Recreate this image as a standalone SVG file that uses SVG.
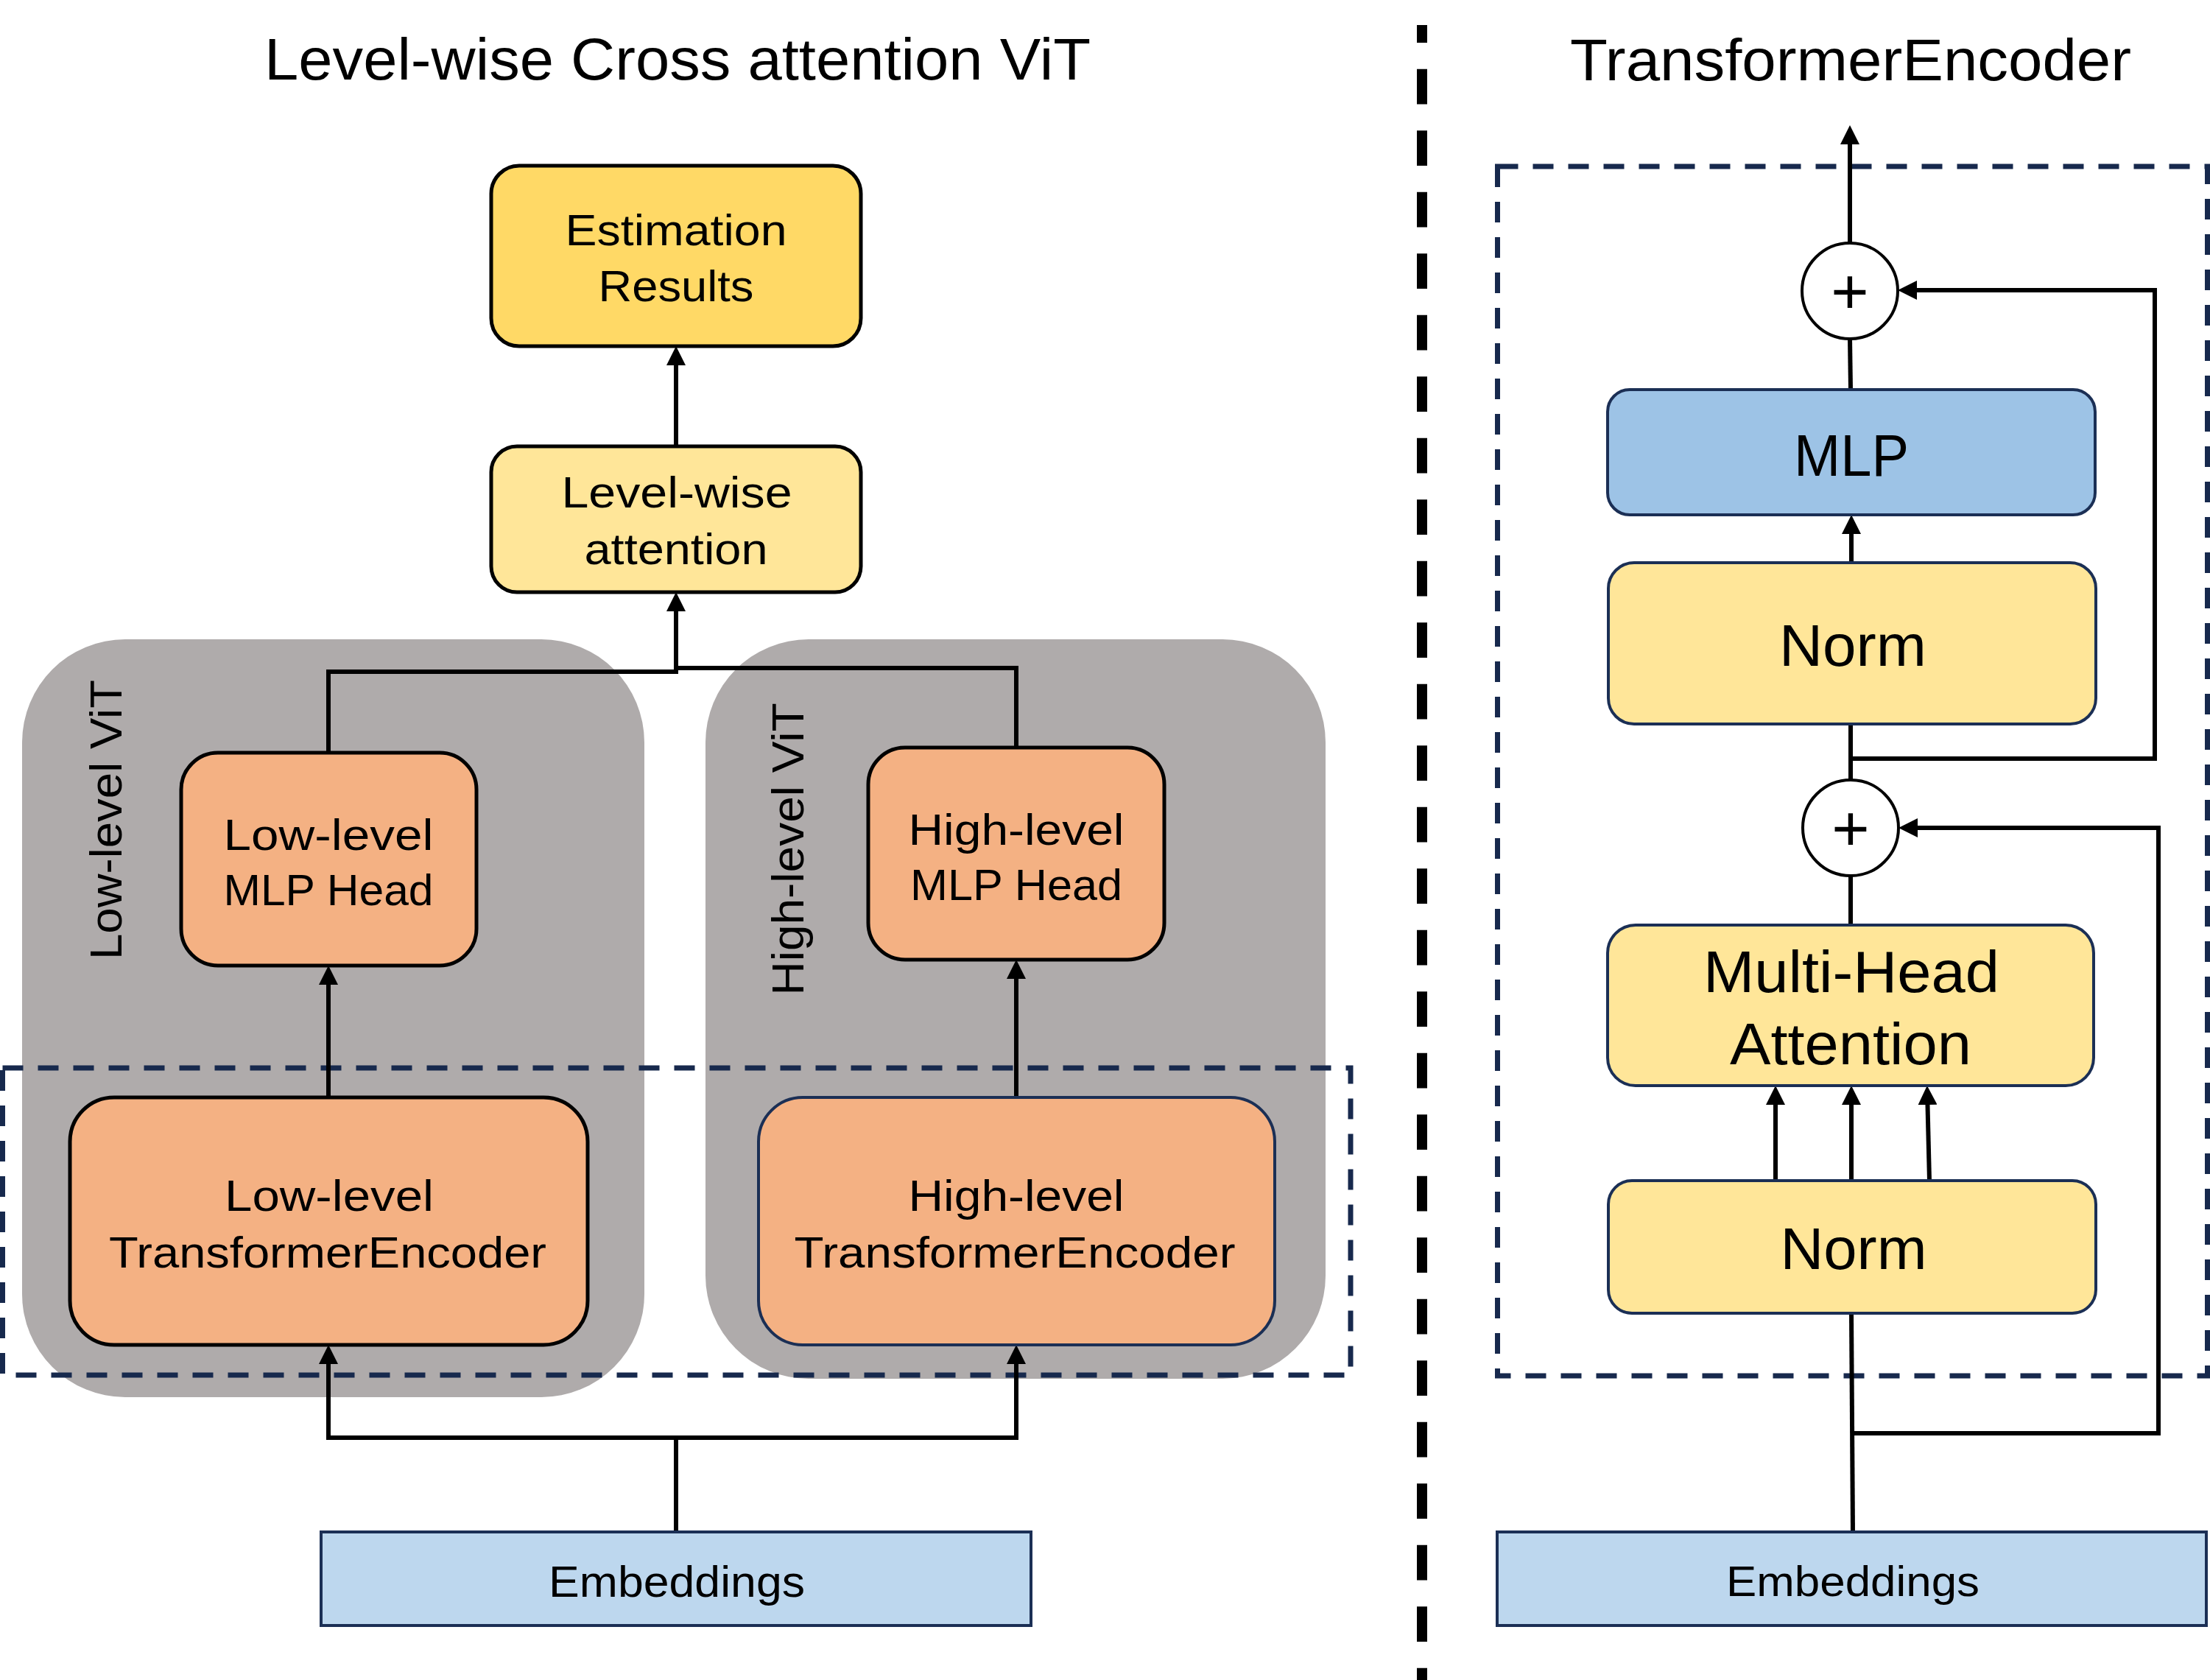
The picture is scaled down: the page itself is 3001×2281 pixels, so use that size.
<svg xmlns="http://www.w3.org/2000/svg" width="3001" height="2281" viewBox="0 0 3001 2281">
<defs>
<style>
.t{font-family:"Liberation Sans",Arial,sans-serif;fill:#000;text-anchor:middle}
.title{font-size:80px}
.lt{font-size:60px}
.rt{font-size:80px}
.vt{font-size:62px}
.pl{font-size:88px}
.box{stroke:#000;stroke-width:5}
.nbox{stroke:#1B2F55;stroke-width:4}
.panel{fill:#AFABAB}
.dash{fill:none;stroke:#17294D;stroke-width:7;stroke-dasharray:28 20}
.c{fill:none;stroke:#000;stroke-width:6}
.ca{fill:none;stroke:#000;stroke-width:6;marker-end:url(#arrow)}
</style>
<marker id="arrow" markerUnits="userSpaceOnUse" markerWidth="26" markerHeight="26" viewBox="0 0 26 26" refX="20" refY="13" orient="auto">
<path d="M0,0 L26,13 L0,26 z" fill="#000"/>
</marker>
</defs>
<rect width="3001" height="2281" fill="#fff"/>

<g id="titles">
<text class="t title" x="920" y="108" textLength="1122" lengthAdjust="spacingAndGlyphs">Level-wise Cross attention ViT</text>
<text class="t title" x="2513" y="109" textLength="762" lengthAdjust="spacingAndGlyphs">TransformerEncoder</text>
</g>

<g id="divider">
<path d="M1931,34 V2281" fill="none" stroke="#000" stroke-width="14" stroke-dasharray="47.7 35.8" stroke-dashoffset="23.7"/>
</g>

<g id="low-level-vit">
<rect class="panel" x="30" y="868" width="845" height="1029" rx="140"/>
<text class="t vt" transform="translate(165,1113) rotate(-90)" textLength="380" lengthAdjust="spacingAndGlyphs">Low-level ViT</text>
</g>
<g id="high-level-vit">
<rect class="panel" x="958" y="868" width="842" height="1004" rx="140"/>
<text class="t vt" transform="translate(1091,1153) rotate(-90)" textLength="397" lengthAdjust="spacingAndGlyphs">High-level ViT</text>
</g>

<g id="encoder-region-left">
<rect class="dash" x="3.5" y="1450" width="1830.5" height="417"/>
</g>
<g id="encoder-region-right">
<rect class="dash" x="2033.5" y="226" width="964" height="1642"/>
</g>

<g id="connectors">
<path class="ca" d="M918,606 V476"/>
<path class="ca" d="M446,1022 V912 H918 V810"/>
<path class="c" d="M1380,1015 V907 H918"/>
<path class="ca" d="M446,1490 V1317"/>
<path class="ca" d="M1380,1490 V1309"/>
<path class="ca" d="M918,2080 V1952 H446 V1832"/>
<path class="ca" d="M918,1952 H1380 V1832"/>

<path class="ca" d="M2512,330 V176"/>
<path class="c" d="M2513,529 L2512,459"/>
<path class="ca" d="M2514,764 V705"/>
<path class="c" d="M2513,983 V1059"/>
<path class="ca" d="M2513,1030 H2926 V394 H2583"/>
<path class="c" d="M2513,1189 V1256"/>
<path class="ca" d="M2411,1603 V1480"/>
<path class="ca" d="M2514,1603 V1480"/>
<path class="ca" d="M2620,1603 L2617,1480"/>
<path class="c" d="M2514,1783 L2516,2080"/>
<path class="ca" d="M2515,1946 H2931 V1124 H2584"/>
</g>

<g id="estimation-results">
<rect class="box" x="667" y="225" width="502" height="245" rx="38" fill="#FFD966"/>
<text class="t lt" x="918" y="333" textLength="301" lengthAdjust="spacingAndGlyphs">Estimation</text>
<text class="t lt" x="918" y="409" textLength="211" lengthAdjust="spacingAndGlyphs">Results</text>
</g>
<g id="level-wise-attention">
<rect class="box" x="667" y="606" width="502" height="198" rx="35" fill="#FFE699"/>
<text class="t lt" x="919" y="689" textLength="313" lengthAdjust="spacingAndGlyphs">Level-wise</text>
<text class="t lt" x="918" y="766" textLength="249" lengthAdjust="spacingAndGlyphs">attention</text>
</g>
<g id="low-mlp-head">
<rect class="box" x="246" y="1022" width="401" height="289" rx="50" fill="#F4B183"/>
<text class="t lt" x="446" y="1154" textLength="285" lengthAdjust="spacingAndGlyphs">Low-level</text>
<text class="t lt" x="446" y="1229" textLength="285" lengthAdjust="spacingAndGlyphs">MLP Head</text>
</g>
<g id="high-mlp-head">
<rect class="box" x="1179" y="1015" width="402" height="288" rx="50" fill="#F4B183"/>
<text class="t lt" x="1380" y="1147" textLength="293" lengthAdjust="spacingAndGlyphs">High-level</text>
<text class="t lt" x="1380" y="1222" textLength="288" lengthAdjust="spacingAndGlyphs">MLP Head</text>
</g>
<g id="low-transformer-encoder">
<rect class="box" x="95" y="1490" width="703" height="336" rx="60" fill="#F4B183"/>
<text class="t lt" x="447" y="1644" textLength="284" lengthAdjust="spacingAndGlyphs">Low-level</text>
<text class="t lt" x="445" y="1721" textLength="594" lengthAdjust="spacingAndGlyphs">TransformerEncoder</text>
</g>
<g id="high-transformer-encoder">
<rect class="nbox" x="1030" y="1490" width="701" height="336" rx="60" fill="#F4B183"/>
<text class="t lt" x="1380" y="1644" textLength="293" lengthAdjust="spacingAndGlyphs">High-level</text>
<text class="t lt" x="1378" y="1721" textLength="599" lengthAdjust="spacingAndGlyphs">TransformerEncoder</text>
</g>
<g id="embeddings-left">
<rect class="nbox" x="436" y="2080" width="964" height="127" fill="#BDD7EE"/>
<text class="t lt" x="919" y="2168" textLength="348" lengthAdjust="spacingAndGlyphs">Embeddings</text>
</g>

<g id="add-top">
<circle cx="2512" cy="395" r="65" fill="#fff" stroke="#000" stroke-width="4"/>
<text class="t pl" x="2512" y="426">+</text>
</g>
<g id="mlp">
<rect class="nbox" x="2183" y="529" width="662" height="170" rx="30" fill="#9DC3E6"/>
<text class="t rt" x="2514" y="646" textLength="156" lengthAdjust="spacingAndGlyphs">MLP</text>
</g>
<g id="norm-upper">
<rect class="nbox" x="2184" y="764" width="662" height="219" rx="35" fill="#FFE699"/>
<text class="t rt" x="2516" y="904" textLength="200" lengthAdjust="spacingAndGlyphs">Norm</text>
</g>
<g id="add-bottom">
<circle cx="2513" cy="1124" r="65" fill="#fff" stroke="#000" stroke-width="4"/>
<text class="t pl" x="2513" y="1155">+</text>
</g>
<g id="multi-head-attention">
<rect class="nbox" x="2183" y="1256" width="660" height="218" rx="38" fill="#FFE699"/>
<text class="t rt" x="2514" y="1347" textLength="402" lengthAdjust="spacingAndGlyphs">Multi-Head</text>
<text class="t rt" x="2513" y="1445" textLength="328" lengthAdjust="spacingAndGlyphs">Attention</text>
</g>
<g id="norm-lower">
<rect class="nbox" x="2184" y="1603" width="662" height="180" rx="32" fill="#FFE699"/>
<text class="t rt" x="2517" y="1723" textLength="199" lengthAdjust="spacingAndGlyphs">Norm</text>
</g>
<g id="embeddings-right">
<rect class="nbox" x="2033" y="2080" width="963" height="127" fill="#BDD7EE"/>
<text class="t" style="font-size:58px" x="2516" y="2167" textLength="344" lengthAdjust="spacingAndGlyphs">Embeddings</text>
</g>
</svg>
